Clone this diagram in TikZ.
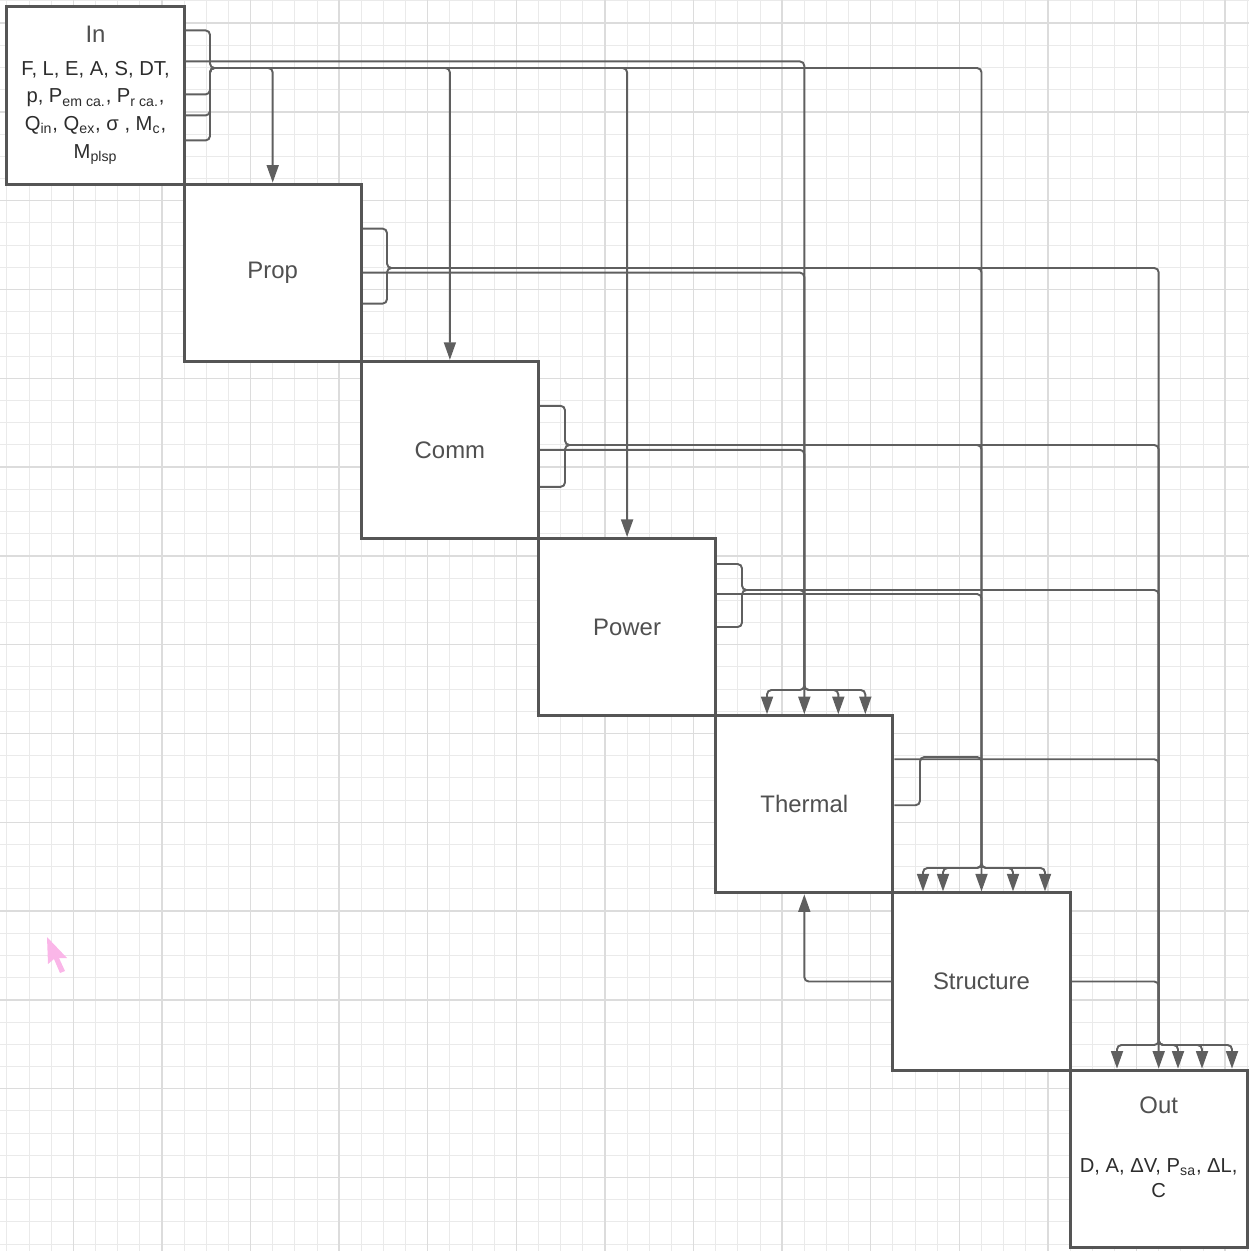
\documentclass[tikz,border=0pt]{standalone}
\usepackage{fontspec}
\setmainfont{Liberation Sans}
\usetikzlibrary{positioning, calc, arrows.meta}

\definecolor{boxline}{RGB}{85,85,85}
\definecolor{wiregray}{RGB}{95,95,95}
\definecolor{titlegray}{RGB}{80,80,80}
\definecolor{vartext}{RGB}{45,45,45}
\definecolor{gridlight}{RGB}{234,234,234}
\definecolor{griddark}{RGB}{220,220,220}
\definecolor{cursorpink}{RGB}{250,182,232}

\newcommand{\titlefont}{\fontsize{13.6}{16}\selectfont}
\newcommand{\varfont}{\fontsize{11.5}{15.8}\selectfont}

\begin{document}
\begin{tikzpicture}[
    x=0.02cm, y=-0.02cm,
    every node/.style={font=\titlefont, text=titlegray},
    block/.style={
        rectangle, draw=boxline, fill=white, line width=1.7pt,
        minimum width=3.544cm, minimum height=3.544cm,
        inner sep=0pt, align=center
    },
    vars/.style={font=\varfont, text=vartext, align=center},
    wire/.style={draw=wiregray, line width=1.1pt, rounded corners=2.5pt},
    feed/.style={wire, -{Triangle[length=10pt,width=6.8pt]}},
    gridminor/.style={draw=gridlight, line width=0.5pt},
    gridmajor/.style={draw=griddark, line width=0.8pt}
]
\useasboundingbox (0,0) rectangle (1249,1251);

%% ── Background grid ────────────────────────────────────────────────
\foreach \k in {0,...,56} {
    \draw[gridminor] ({6.85+22.15*\k},0) -- ({6.85+22.15*\k},1251);
    \draw[gridminor] (0,{0.8+22.2*\k}) -- (1249,{0.8+22.2*\k});
}
\foreach \k in {0,...,13} {
    \draw[gridmajor] ({73.3+88.6*\k},0) -- ({73.3+88.6*\k},1251);
    \draw[gridmajor] (0,{23+88.8*\k}) -- (1249,{23+88.8*\k});
}

%% pointer left on the canvas
\fill[cursorpink] (47,937) -- (48,964) -- (54,959) -- (60,973)
    -- (65,971) -- (59,958) -- (67,958) -- cycle;

%% ── Diagonal blocks ────────────────────────────────────────────────
\node[block, vars] (in) at (95.5,95.5)
    {{\titlefont\color{titlegray}In}\\[2.5pt]
     F, L,\ E, A, S, DT,\\
     p, P\textsubscript{em ca.}, P\textsubscript{r ca.},\\
     Q\textsubscript{in}, Q\textsubscript{ex}, σ , M\textsubscript{c},\\
     M\textsubscript{plsp}};
\node[block] (prop)    at (272.7,272.7)   {Prop};
\node[block] (comm)    at (449.9,449.9)   {Comm};
\node[block] (power)   at (627.1,627.1)   {Power};
\node[block] (thermal) at (804.3,804.3)   {Thermal};
\node[block] (struct)  at (981.5,981.5)   {Structure};
\node[block] (out)     at (1158.7,1158.7) {};

\node (outname) at (1158.7,1105) {Out};
\node[vars, font=\fontsize{11.5}{14}\selectfont] (outvars) at (1158.7,1178)
    {D, A, ΔV, P\textsubscript{sa}, ΔL,\\ C};

%% ── In outputs ─────────────────────────────────────────────────────
\draw[feed] ($(in.north east)+(0,25)$) -| (210,68) -| (prop.north);
\draw[feed] ($(in.north east)+(0,89)$) -| (210,68) -| (comm.north);
\draw[feed] ($(in.north east)+(0,110)$) -| (210,68) -| (power.north);
\draw[feed] ($(in.north east)+(0,56)$) -| (804.3,690)
    -| ($(thermal.north)+(-37.3,0)$);
\draw[feed] ($(in.north east)+(0,135)$) -| (210,68) -| (981.5,868)
    -| ($(struct.north)+(-58.5,0)$);

%% ── Prop outputs ───────────────────────────────────────────────────
\draw[feed] ($(prop.north east)+(0,90)$) -| (thermal.north);
\draw[feed] ($(prop.north east)+(0,46)$) -| (387,268) -| (981.5,868)
    -| ($(struct.north)+(-38.5,0)$);
\draw[feed] ($(prop.north east)+(0,121)$) -| (387,268) -| (1158.7,1045)
    -| ($(out.north)+(-41.7,0)$);

%% ── Comm outputs ───────────────────────────────────────────────────
\draw[feed] ($(comm.north east)+(0,90)$) -| (804.3,690)
    -| ($(thermal.north)+(34,0)$);
\draw[feed] ($(comm.north east)+(0,46)$) -| (565,445) -| (struct.north);
\draw[feed] ($(comm.north east)+(0,127)$) -| (565,445) -| (out.north);

%% ── Power outputs ──────────────────────────────────────────────────
\draw[feed] ($(power.north east)+(0,27)$) -| (742,590) -| (804.3,690)
    -| ($(thermal.north)+(61,0)$);
\draw[feed] ($(power.north east)+(0,57)$) -| (981.5,868)
    -| ($(struct.north)+(31.5,0)$);
\draw[feed] ($(power.north east)+(0,90)$) -| (742,590) -| (1158.7,1045)
    -| ($(out.north)+(19.3,0)$);

%% ── Thermal outputs ────────────────────────────────────────────────
\draw[feed] ($(thermal.north east)+(0,45)$) -| (1158.7,1045)
    -| ($(out.north)+(43.3,0)$);
\draw[feed] ($(thermal.north east)+(0,91)$) -| (920,757) -| (981.5,868)
    -| ($(struct.north)+(63.5,0)$);

%% ── Structure outputs ──────────────────────────────────────────────
\draw[feed] (struct.west) -| (thermal.south);
\draw[feed] (struct.east) -| (1158.7,1045) -| ($(out.north)+(73.3,0)$);

\end{tikzpicture}
\end{document}
